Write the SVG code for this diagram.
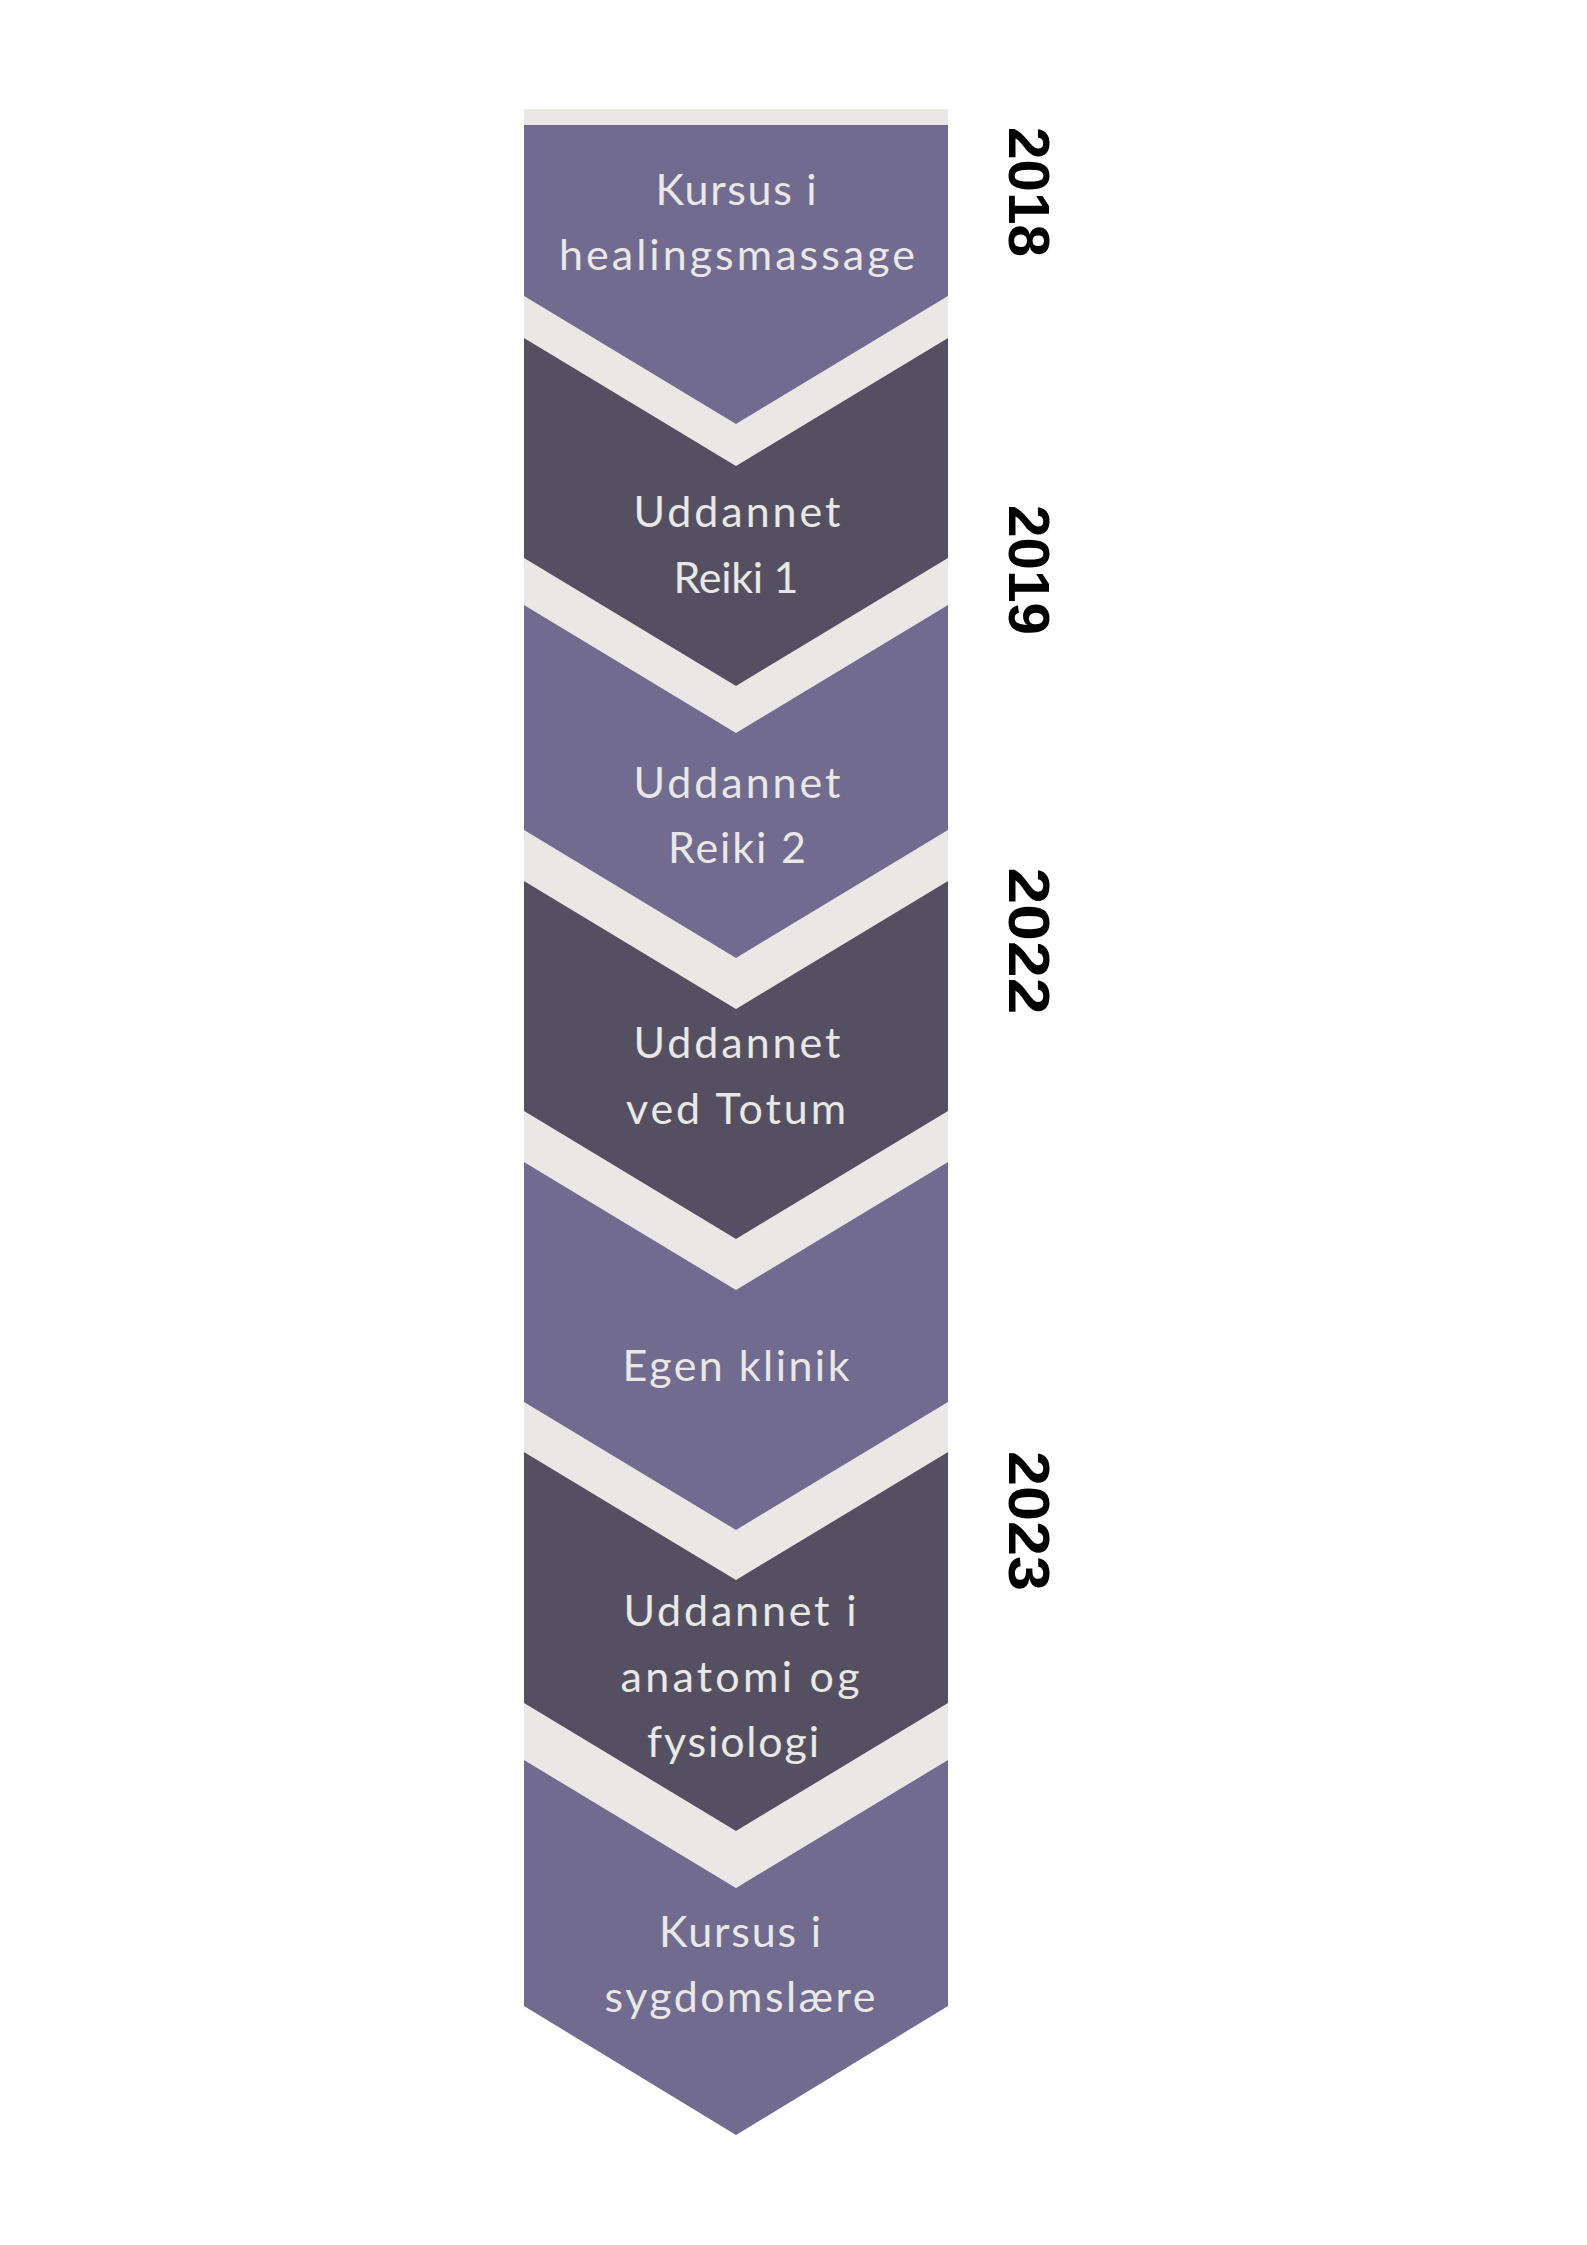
<svg xmlns="http://www.w3.org/2000/svg" width="1587" height="2245" viewBox="0 0 1587 2245">
<style>
.purple{fill:#706B8F}
.dark{fill:#545062}
.light{fill:#E9E8E4}
.t{font-family:Lato,"Open Sans","DejaVu Sans",sans-serif;font-size:43px;fill:#E9E8E4;text-anchor:middle}
.yr{font-family:"Liberation Sans",Arial,sans-serif;font-weight:bold;font-size:58px;fill:#000;text-anchor:middle}
</style>
<rect width="1587" height="2245" fill="#FFFFFF"/>
<g id="connectors">
<rect class="light" x="524" y="109" width="424" height="16"/>
<polygon class="light" points="524,296 736,424 948,296 948,338 736,466 524,338"/>
<polygon class="light" points="524,558 736,686 948,558 948,605 736,733 524,605"/>
<polygon class="light" points="524,830 736,958 948,830 948,881 736,1009 524,881"/>
<polygon class="light" points="524,1111 736,1239 948,1111 948,1162 736,1290 524,1162"/>
<polygon class="light" points="524,1402 736,1530 948,1402 948,1452 736,1580 524,1452"/>
<polygon class="light" points="524,1703 736,1831 948,1703 948,1760 736,1888 524,1760"/>
</g>
<g id="node1">
<polygon class="purple" points="524,125 948,125 948,296 736,424 524,296"/>
<text class="t" x="736" y="205" textLength="161" lengthAdjust="spacing">Kursus i</text>
<text class="t" x="737" y="270" textLength="356" lengthAdjust="spacing">healingsmassage</text>
</g>
<g id="node2">
<polygon class="dark" points="524,338 736,466 948,338 948,558 736,686 524,558"/>
<text class="t" x="737" y="527" textLength="207" lengthAdjust="spacing">Uddannet</text>
<text class="t" x="736" y="593" textLength="125" lengthAdjust="spacing">Reiki 1</text>
</g>
<g id="node3">
<polygon class="purple" points="524,605 736,733 948,605 948,830 736,958 524,830"/>
<text class="t" x="737" y="798" textLength="207" lengthAdjust="spacing">Uddannet</text>
<text class="t" x="737" y="863" textLength="138" lengthAdjust="spacing">Reiki 2</text>
</g>
<g id="node4">
<polygon class="dark" points="524,881 736,1009 948,881 948,1111 736,1239 524,1111"/>
<text class="t" x="737" y="1058" textLength="207" lengthAdjust="spacing">Uddannet</text>
<text class="t" x="736" y="1124" textLength="220" lengthAdjust="spacing">ved Totum</text>
</g>
<g id="node5">
<polygon class="purple" points="524,1162 736,1290 948,1162 948,1402 736,1530 524,1402"/>
<text class="t" x="736" y="1381" textLength="227" lengthAdjust="spacing">Egen klinik</text>
</g>
<g id="node6">
<polygon class="dark" points="524,1452 736,1580 948,1452 948,1703 736,1831 524,1703"/>
<text class="t" x="740" y="1626" textLength="233" lengthAdjust="spacing">Uddannet i</text>
<text class="t" x="740" y="1692" textLength="239" lengthAdjust="spacing">anatomi og</text>
<text class="t" x="733" y="1757" textLength="172" lengthAdjust="spacing">fysiologi</text>
</g>
<g id="node7">
<polygon class="purple" points="524,1760 736,1888 948,1760 948,2006 736,2135 524,2006"/>
<text class="t" x="740" y="1947" textLength="162" lengthAdjust="spacing">Kursus i</text>
<text class="t" x="740" y="2012" textLength="271" lengthAdjust="spacing">sygdomslære</text>
</g>
<g id="years">
<text class="yr" transform="translate(1009,192) rotate(90)" textLength="130" lengthAdjust="spacingAndGlyphs">2018</text>
<text class="yr" transform="translate(1009,570) rotate(90)" textLength="130" lengthAdjust="spacingAndGlyphs">2019</text>
<text class="yr" transform="translate(1009,941) rotate(90)" textLength="147" lengthAdjust="spacingAndGlyphs">2022</text>
<text class="yr" transform="translate(1009,1521) rotate(90)" textLength="140" lengthAdjust="spacingAndGlyphs">2023</text>
</g>
</svg>
